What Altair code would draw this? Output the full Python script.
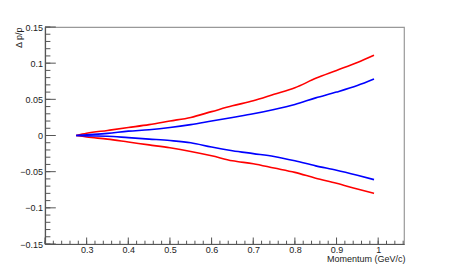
import altair as alt
import pandas as pd

# Momentum (GeV/c) sample points
momentum = [0.275, 0.30, 0.35, 0.40, 0.45, 0.50, 0.55, 0.60, 0.65, 0.70,
            0.75, 0.80, 0.85, 0.90, 0.95, 0.99]
red_upper = [0.000, 0.003, 0.007, 0.011, 0.015, 0.020, 0.025, 0.033, 0.041, 0.048,
             0.057, 0.066, 0.079, 0.090, 0.101, 0.111]
blue_upper = [0.000, 0.001, 0.003, 0.006, 0.008, 0.011, 0.015, 0.020, 0.025, 0.030,
              0.036, 0.043, 0.052, 0.060, 0.069, 0.078]
blue_lower = [0.000, -0.0005, -0.001, -0.003, -0.005, -0.007, -0.010, -0.016, -0.021, -0.025,
              -0.029, -0.035, -0.042, -0.048, -0.055, -0.061]
red_lower = [0.000, -0.002, -0.005, -0.009, -0.013, -0.017, -0.022, -0.028, -0.035, -0.039,
             -0.045, -0.051, -0.059, -0.066, -0.074, -0.080]

x_labels = [0.3, 0.4, 0.5, 0.6, 0.7, 0.8, 0.9, 1.0]
y_labels = [-0.15, -0.1, -0.05, 0, 0.05, 0.1, 0.15]
x_major = [0.2] + x_labels
x_minor = [round(0.2 + 0.02 * i, 2) for i in range(44)]
y_major = y_labels
y_minor = [round(-0.15 + 0.01 * i, 2) for i in range(31)]

W, H = 359, 217
FONT = "Liberation Sans"
TXT = "#222222"
AX = "#555555"


def curves(pairs):
    rows = []
    for name, vals in pairs:
        for p, d in zip(momentum, vals):
            rows.append({"p": p, "d": d, "curve": name})
    return pd.DataFrame(rows)


red_df = curves([("red_upper", red_upper), ("red_lower", red_lower)])
blue_df = curves([("blue_upper", blue_upper), ("blue_lower", blue_lower)])

xs = alt.Scale(domain=[0.2, 1.062], nice=False, zero=False)
ys = alt.Scale(domain=[-0.15, 0.15], nice=False, zero=False)

x_axis = alt.Axis(values=x_labels, format=".2~g", ticks=False, grid=False,
                  domainColor=AX, domainWidth=1.2,
                  labelFont=FONT, labelFontSize=9, labelColor=TXT, labelPadding=1.5,
                  title="Momentum (GeV/c)", titleFont=FONT, titleFontSize=9,
                  titleFontWeight="normal", titleColor=TXT,
                  titleX=W + 1, titleY=14.5, titleAlign="right", titleBaseline="middle")
y_axis = alt.Axis(values=y_labels, format=".2~g", ticks=False, grid=False,
                  domainColor=AX, domainWidth=1.2,
                  labelFont=FONT, labelFontSize=9, labelColor=TXT, labelPadding=2.5,
                  title="Δ p/p", titleFont=FONT, titleFontSize=9,
                  titleFontWeight="normal", titleColor=TXT,
                  titleAnchor="end", titleAngle=270, titleAlign="right",
                  titlePadding=-4)

red = alt.Chart(red_df).mark_line(color="#ff0000", strokeWidth=1.6,
                                  interpolate="monotone").encode(
    x=alt.X("p:Q", scale=xs, axis=x_axis),
    y=alt.Y("d:Q", scale=ys, axis=y_axis),
    detail="curve:N",
)
blue = alt.Chart(blue_df).mark_line(color="#0000ff", strokeWidth=1.6,
                                    interpolate="monotone").encode(
    x=alt.X("p:Q", scale=xs, axis=x_axis),
    y=alt.Y("d:Q", scale=ys, axis=y_axis),
    detail="curve:N",
)


def xticks(vals, length):
    return alt.Chart(pd.DataFrame({"p": vals})).mark_rule(color=AX, strokeWidth=1).encode(
        x=alt.X("p:Q", scale=xs, axis=x_axis),
        y=alt.value(H), y2=alt.value(H - length))


def yticks(vals, length):
    return alt.Chart(pd.DataFrame({"d": vals})).mark_rule(color=AX, strokeWidth=1).encode(
        y=alt.Y("d:Q", scale=ys, axis=y_axis),
        x=alt.value(0), x2=alt.value(length))


chart = alt.layer(
    red, blue,
    xticks(x_minor, 3.3), xticks(x_major, 6.5),
    yticks(y_minor, 5.4), yticks(y_major, 10.8),
).properties(
    width=W, height=H,
    autosize=alt.AutoSizeParams(type="none"),
    padding={"left": 37, "top": 19, "right": 30, "bottom": 30},
).configure_view(stroke="#999999", strokeWidth=1.2)

chart.save("out.html", embed_options={"renderer": "svg", "actions": False})
